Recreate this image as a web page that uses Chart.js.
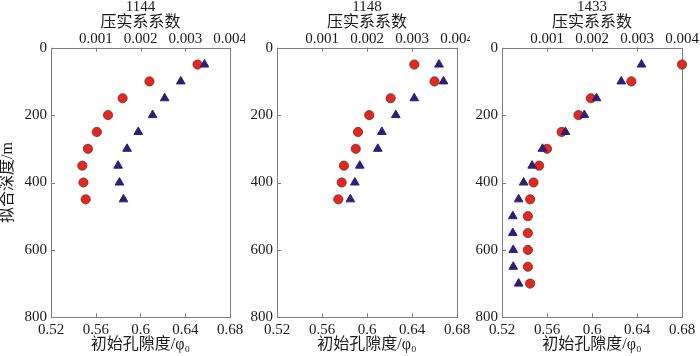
<!DOCTYPE html>
<html><head><meta charset="utf-8">
<script src="https://cdn.jsdelivr.net/npm/chart.js@4.4.0/dist/chart.umd.min.js"></script>
<style>
html,body{margin:0;padding:0;background:#fff;}
#wrap{position:relative;width:700px;height:356px;overflow:hidden;background:#fff;}
canvas{position:absolute;top:0;}
</style></head><body>
<div id="wrap">
<canvas id="c1" width="245" height="356" style="left:0px;width:245px;height:356px"></canvas>
<canvas id="c2" width="225" height="356" style="left:245px;width:225px;height:356px"></canvas>
<canvas id="c3" width="230" height="356" style="left:470px;width:230px;height:356px"></canvas>
</div>
<script>
// ---- data ----
const wellNames = ['1144', '1148', '1433'];

const depth1144 = [50, 100, 150, 200, 250, 300, 350, 400, 450];
const porosity1144 = [0.651, 0.608, 0.584, 0.571, 0.561, 0.553, 0.548, 0.549, 0.551];
const compaction1144 = [0.00343, 0.00290, 0.00254, 0.00227, 0.00195, 0.00170, 0.00150, 0.00153, 0.00162];

const depth1148 = [50, 100, 150, 200, 250, 300, 350, 400, 450];
const porosity1148 = [0.642, 0.660, 0.621, 0.602, 0.592, 0.590, 0.5795, 0.5775, 0.5745];
const compaction1148 = [0.00360, 0.00370, 0.00305, 0.00264, 0.00233, 0.00224, 0.00184, 0.00173, 0.00163];

const depth1433 = [50, 100, 150, 200, 250, 300, 350, 400, 450, 500, 550, 600, 650, 700];
const porosity1433 = [0.680, 0.635, 0.599, 0.588, 0.573, 0.560, 0.553, 0.548, 0.545, 0.543, 0.543, 0.543, 0.543, 0.545];
const compaction1433 = [0.00310, 0.00265, 0.00210, 0.00183, 0.00141, 0.00090, 0.00067, 0.00048, 0.00037, 0.00024, 0.00024, 0.00025, 0.00025, 0.00037];

const porosityTicks = [0.52, 0.56, 0.6, 0.64, 0.68];
const compactionTicks = [0, 0.001, 0.002, 0.003, 0.004];
const depthTicks = [0, 200, 400, 600, 800];

const xTopTitle = '压实系系数';
const xBottomTitle = '初始孔隙度/φ₀';
const yTitle = '拟合深度/m';

// ---- styles ----
const FONT = '"Liberation Serif", "Noto Sans CJK SC", serif';
const TEXT = '#1a1a1a';
const FRAME = '#7d7d7d';
const RED = '#e8261c';
const RED_EDGE = '#6e2b2b';
const PURPLE = '#2f1c7c';

const framePlugin = {
  id: 'frame',
  beforeDatasetsDraw(chart) {
    const ctx = chart.ctx, a = chart.chartArea;
    ctx.save();
    ctx.strokeStyle = FRAME;
    ctx.lineWidth = 1;
    ctx.strokeRect(Math.round(a.left) + 0.5, Math.round(a.top) + 0.5,
                   Math.round(a.right) - Math.round(a.left), Math.round(a.bottom) - Math.round(a.top));
    const L = 4;
    ctx.beginPath();
    const sx = chart.scales.x, sx2 = chart.scales.x2, sy = chart.scales.y;
    sx.ticks.forEach(t => { const p = Math.round(sx.getPixelForValue(t.value)) + 0.5;
      ctx.moveTo(p, a.bottom); ctx.lineTo(p, a.bottom - L); });
    sx2.ticks.forEach(t => { const p = Math.round(sx2.getPixelForValue(t.value)) + 0.5;
      ctx.moveTo(p, a.top); ctx.lineTo(p, a.top + L); });
    sy.ticks.forEach(t => { const p = Math.round(sy.getPixelForValue(t.value)) + 0.5;
      ctx.moveTo(a.left, p); ctx.lineTo(a.left + L, p); });
    ctx.stroke();
    ctx.restore();
  }
};

const tickFont = {family: FONT, size: 15, lineHeight: 1};
const titleFont = {family: FONT, size: 16, lineHeight: 1};

function makeChart(id, name, depths, por, comp, yW, padR, showYTitle) {
  return new Chart(document.getElementById(id), {
    type: 'scatter',
    data: {
      datasets: [
        {
          label: '压实系数',
          data: depths.map((d, i) => ({x: comp[i], y: d})),
          xAxisID: 'x2', yAxisID: 'y',
          pointStyle: 'triangle', pointRadius: 5,
          backgroundColor: PURPLE, borderColor: PURPLE, borderWidth: 1,
          clip: false
        },
        {
          label: '初始孔隙度',
          data: depths.map((d, i) => ({x: por[i], y: d})),
          xAxisID: 'x', yAxisID: 'y',
          pointStyle: 'circle', pointRadius: 4.6,
          backgroundColor: RED, borderColor: RED_EDGE, borderWidth: 0.8,
          clip: false
        }
      ]
    },
    options: {
      responsive: false, animation: false, devicePixelRatio: 1,
      layout: {padding: {left: 0, right: padR, top: 0, bottom: 0}},
      plugins: {
        legend: {display: false},
        tooltip: {enabled: false},
        title: {display: true, text: name, fullSize: false, padding: {top: 0, bottom: 0},
                color: TEXT, font: {family: FONT, size: 15, weight: 'normal', lineHeight: 1}}
      },
      scales: {
        x: {
          type: 'linear', position: 'bottom', min: 0.52, max: 0.68,
          grid: {display: false, drawTicks: false}, border: {display: false},
          afterBuildTicks: s => { s.ticks = porosityTicks.map(v => ({value: v})); },
          afterFit: s => { s.height = 38.7; s.paddingLeft = 0; s.paddingRight = 0; },
          ticks: {padding: 5, color: TEXT, maxRotation: 0, autoSkip: false, font: tickFont,
                  callback: v => String(v)},
          title: {display: true, text: xBottomTitle, color: TEXT, font: titleFont,
                  padding: {top: 0, bottom: 3}}
        },
        x2: {
          type: 'linear', position: 'top', min: 0, max: 0.004,
          grid: {display: false, drawTicks: false}, border: {display: false},
          afterBuildTicks: s => { s.ticks = compactionTicks.map(v => ({value: v})); },
          afterFit: s => { s.height = 32.7; s.paddingLeft = 0; s.paddingRight = 0; },
          ticks: {padding: 1, color: TEXT, maxRotation: 0, autoSkip: false, font: tickFont,
                  callback: v => (v === 0 ? '' : String(v))},
          title: {display: true, text: xTopTitle, color: TEXT, font: titleFont,
                  padding: {top: 0, bottom: 0}}
        },
        y: {
          type: 'linear', position: 'left', reverse: true, min: 0, max: 800,
          grid: {display: false, drawTicks: false}, border: {display: false},
          afterBuildTicks: s => { s.ticks = depthTicks.map(v => ({value: v})); },
          afterFit: s => { s.width = yW; s.paddingTop = 0; s.paddingBottom = 0; },
          ticks: {padding: 4, color: TEXT, autoSkip: false, font: tickFont,
                  callback: v => String(v)},
          title: {display: showYTitle, text: yTitle, color: TEXT, font: titleFont,
                  padding: {top: 0, bottom: 0}}
        }
      }
    },
    plugins: [framePlugin]
  });
}

makeChart('c1', wellNames[0], depth1144, porosity1144, compaction1144, 51, 15, true);
makeChart('c2', wellNames[1], depth1148, porosity1148, compaction1148, 32, 13, false);
makeChart('c3', wellNames[2], depth1433, porosity1433, compaction1433, 32, 18, false);
</script>
</body></html>
